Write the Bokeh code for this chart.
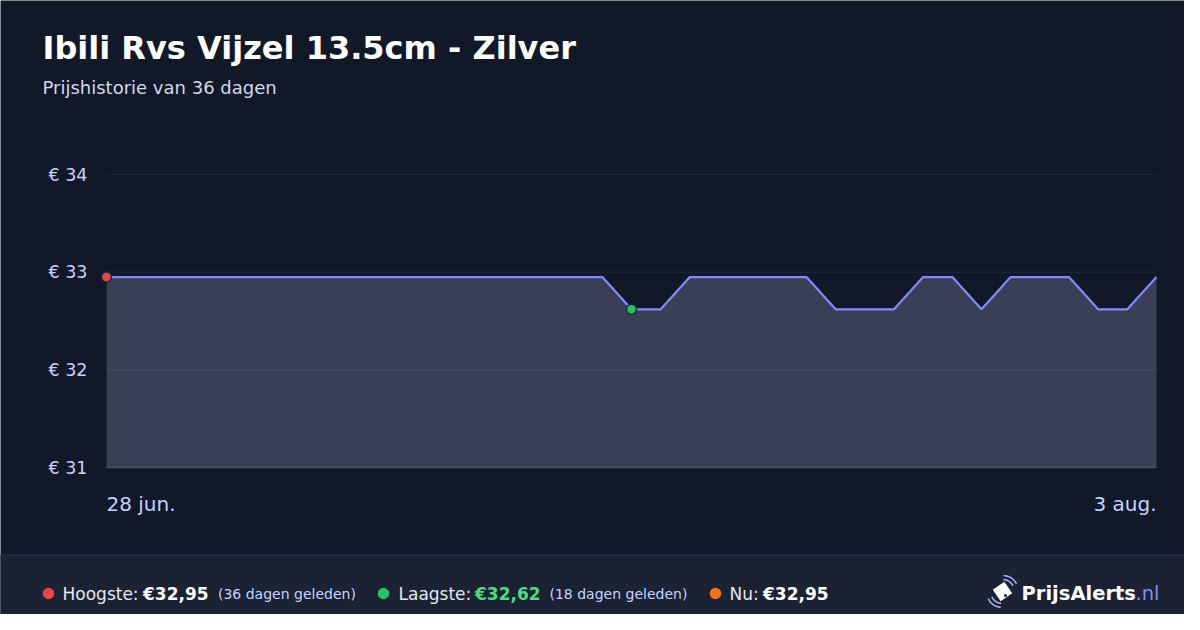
from bokeh.plotting import figure
from bokeh.models import Range1d
from bokeh.embed import file_html
from bokeh.resources import INLINE
from bokeh.core.properties import value

# ---------------- data ----------------
title_text = "Ibili Rvs Vijzel 13.5cm - Zilver"
days = list(range(37))
prices = ([32.95] * 18 + [32.62, 32.62] + [32.95] * 5 + [32.62] * 3 + [32.95] * 2
          + [32.62] + [32.95] * 3 + [32.62] * 2 + [32.95])
date_labels = ["28 jun.", "3 aug."]
y_ticks = [31, 32, 33, 34]
y_tick_labels = ["€ 31", "€ 32", "€ 33", "€ 34"]

n_days = days[-1] - days[0]
hi = max(prices)
lo = min(prices)
now = prices[-1]
hi_idx = prices.index(hi)
lo_idx = prices.index(lo)


def eur(v):
    return "€" + f"{v:.2f}".replace(".", ",")


# ---------------- layout constants (canvas pixels) ----------------
W, H = 1184, 614
FL, FR, FT, FB = 106, 1156, 174, 467      # plotting area
FOOT_TOP = 554
Y0, Y1 = y_ticks[0], y_ticks[-1]
kx = (FR - FL) / (days[-1] - days[0])
ky = (FB - FT) / (Y1 - Y0)
x_start = days[0] - FL / kx
x_end = days[-1] + (W - FR) / kx
y_top = Y1 + FT / ky
y_bot = Y0 - (H - FB) / ky


def X(px):
    return x_start + px / kx


def Y(py):
    return y_top - py / ky


BG = "#111827"
FOOT = "#1a2233"
FONT = "DejaVu Sans"
TICK_C = "#c7d2fe"

p = figure(width=W, height=H, output_backend="svg", toolbar_location=None,
           x_range=Range1d(x_start, x_end), y_range=Range1d(y_bot, y_top),
           x_axis_location=None, y_axis_location=None,
           min_border=0, min_border_left=0, min_border_right=0,
           min_border_top=0, min_border_bottom=0)
p.background_fill_color = BG
p.border_fill_color = BG
p.outline_line_color = None
p.grid.visible = False

# area
p.varea(x=days, y1=[Y0] * len(days), y2=prices, fill_color="#3a3f58", fill_alpha=1.0)

# grid lines
gt = y_ticks[1:]
p.segment(x0=[days[0]] * len(gt), y0=gt, x1=[days[-1]] * len(gt), y1=gt,
          line_color="white", line_alpha=0.06, line_width=1.2)
p.segment(x0=[days[0]], y0=[Y0], x1=[days[-1]], y1=[Y0], line_color="#4b5063", line_width=1.5)

# line + markers
p.line(days, prices, line_color="#818cf8", line_width=2.2)
p.scatter([days[hi_idx]], [hi], size=10, fill_color="#ef4444", line_color="#1f2937", line_width=1.5)
p.scatter([days[lo_idx]], [lo], size=10, fill_color="#22c55e", line_color="#1f2937", line_width=1.5)

# y tick labels
p.text(x=[X(FL - 19)] * len(y_ticks), y=y_ticks, text=y_tick_labels, text_font=value(FONT),
       text_font_size="17.5px", text_color=TICK_C, text_align="right", text_baseline="middle")

# x labels
p.text(x=[days[0]], y=[Y(503)], text=[date_labels[0]], text_font=value(FONT),
       text_font_size="20px", text_color=TICK_C, text_align="left", text_baseline="middle")
p.text(x=[days[-1]], y=[Y(503)], text=[date_labels[1]], text_font=value(FONT),
       text_font_size="20px", text_color=TICK_C, text_align="right", text_baseline="middle")

# title / subtitle
p.text(x=[X(42)], y=[Y(47.5)], text=[title_text], text_font=value(FONT), text_font_size="32px",
       text_font_style="bold", text_color="#ffffff", text_align="left", text_baseline="middle")
p.text(x=[X(42)], y=[Y(87)], text=[f"Prijshistorie van {n_days} dagen"], text_font=value(FONT),
       text_font_size="18px", text_color="#d1d9ee", text_align="left", text_baseline="middle")

# ---------------- footer ----------------
p.quad(left=[X(-2)], right=[X(W + 2)], bottom=[Y(H + 2)], top=[Y(FOOT_TOP)], fill_color=FOOT,
       line_color=None)
p.segment(x0=[X(0)], y0=[Y(FOOT_TOP + 0.5)], x1=[X(W)], y1=[Y(FOOT_TOP + 0.5)],
          line_color="#2a3160", line_width=1)

cy = Y(593)
p.scatter([X(48), X(383), X(715)], [cy, cy, cy], size=11.5, line_color=None,
          fill_color=["#ef4444", "#22c55e", "#f97316"])


def ftext(px, txt, color, size, bold=False, align="left"):
    p.text(x=[X(px)], y=[cy], text=[txt], text_font=value(FONT), text_font_size=size,
           text_font_style="bold" if bold else "normal", text_color=color,
           text_align=align, text_baseline="middle")


ftext(62, "Hoogste:", "#e5e7eb", "17px")
ftext(142.5, eur(hi), "#ffffff", "17px", bold=True)
ftext(217.5, f"({n_days - hi_idx} dagen geleden)", "#c7d2fe", "14px")
ftext(398, "Laagste:", "#e5e7eb", "17px")
ftext(474.5, eur(lo), "#4ade80", "17px", bold=True)
ftext(549, f"({n_days - lo_idx} dagen geleden)", "#c7d2fe", "14px")
ftext(729, "Nu:", "#e5e7eb", "17px")
ftext(762.5, eur(now), "#ffffff", "17px", bold=True)

# logo
ftext(1021, "PrijsAlerts", "#ffffff", "19.5px", bold=True)
ftext(1135, ".nl", "#818cf8", "19.5px")
# tag icon
p.scatter([X(1002)], [Y(591)], size=14, marker="square", angle=0.6, fill_color="#ffffff",
          line_color=None)
p.scatter([X(1005)], [Y(595)], size=3, fill_color=FOOT, line_color=None)
p.arc(x=[X(1002)] * 4, y=[Y(591)] * 4, radius=[12, 16, 12, 16], radius_units="screen",
      start_angle=[0.5, 0.5, 3.6, 3.6], end_angle=[1.5, 1.5, 4.6, 4.6],
      line_color="#a5b4fc", line_width=1.5)

open("out.html", "w").write(file_html(p, INLINE))
